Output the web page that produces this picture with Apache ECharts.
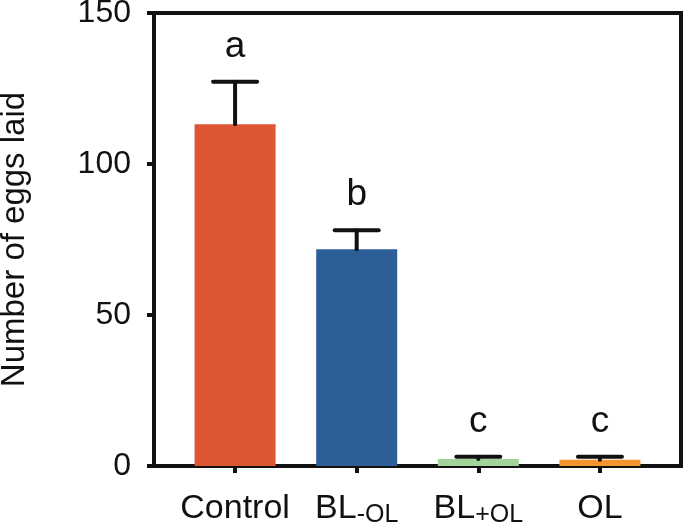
<!DOCTYPE html>
<html>
<head>
<meta charset="utf-8">
<script src="https://cdn.jsdelivr.net/npm/echarts@6/dist/echarts.min.js"></script>
<style>
html,body{margin:0;padding:0;background:#fff;}
#chart{width:685px;height:528px;}
</style>
</head>
<body>
<div id="chart"></div>
<script>
// ---- data ----
var categories = ['Control', 'BL', 'BL', 'OL'];
var subscripts = ['', '-OL', '+OL', ''];
var means = [113.2, 71.8, 2.3, 2.1];
var errorTops = [127.2, 78.1, 3.1, 3.1];
var letters = ['a', 'b', 'c', 'c'];
var colors = ['#DD5533', '#2D5E98', '#A2D49A', '#F3952F'];
var yTicks = [0, 50, 100, 150];

var FONT = '"Liberation Sans", Arial, Helvetica, sans-serif';
var positions = categories.map(function (c, i) { return i + 1; });

var barData = means.map(function (v, i) {
  return { value: [positions[i], v], itemStyle: { color: colors[i] } };
});
var errData = means.map(function (v, i) {
  return [positions[i], v, errorTops[i], i];
});

var chart = echarts.init(document.getElementById('chart'), null, { renderer: 'canvas' });
chart.setOption({
  animation: false,
  backgroundColor: '#fff',
  grid: {
    left: 154, right: 4, top: 13, bottom: 62,
    outerBoundsMode: 'none',
    containLabel: false,
    show: true, borderColor: '#111', borderWidth: 4, backgroundColor: 'transparent'
  },
  xAxis: {
    type: 'value',
    min: 1 / 3,
    max: 4 + 2 / 3,
    splitLine: { show: false },
    axisLine: { show: true, lineStyle: { color: '#111', width: 4 } },
    axisTick: { show: true, customValues: positions, length: 7, lineStyle: { color: '#111', width: 4 } },
    axisLabel: {
      customValues: positions,
      margin: 24,
      color: '#111',
      fontFamily: FONT,
      fontSize: 33,
      formatter: function (val) {
        var i = Math.round(val) - 1;
        if (i < 0 || i >= categories.length) return '';
        var s = '{m|' + categories[i] + '}';
        if (subscripts[i]) s += '{s|' + subscripts[i] + '}';
        return s;
      },
      rich: {
        m: { fontSize: 34, fontFamily: FONT, color: '#111', lineHeight: 38 },
        s: { fontSize: 25, fontFamily: FONT, color: '#111', lineHeight: 38, verticalAlign: 'bottom', padding: [14, 0, 0, 0] }
      }
    }
  },
  yAxis: {
    type: 'value',
    min: 0,
    max: 150,
    interval: 50,
    splitLine: { show: false },
    axisLine: { show: true, lineStyle: { color: '#111', width: 4 } },
    axisTick: { show: true, length: 7, lineStyle: { color: '#111', width: 4 } },
    axisLabel: {
      margin: 23, color: '#111', fontFamily: FONT, fontSize: 32,
      customValues: yTicks
    },
    name: 'Number of eggs laid',
    nameLocation: 'middle',
    nameGap: 123,
    nameTextStyle: { color: '#111', fontFamily: FONT, fontSize: 33 }
  },
  series: [
    {
      type: 'bar',
      data: barData,
      barWidth: 81,
      z: 2
    },
    {
      type: 'custom',
      data: errData,
      z: 3,
      renderItem: function (params, api) {
        var x = api.value(0);
        var base = api.coord([x, api.value(1)]);
        var top = api.coord([x, api.value(2)]);
        var idx = api.value(3);
        var half = 22;
        var ls = { stroke: '#111', lineWidth: 4, lineCap: 'round' };
        return {
          type: 'group',
          children: [
            { type: 'line', shape: { x1: base[0], y1: base[1], x2: top[0], y2: top[1] }, style: ls },
            { type: 'line', shape: { x1: top[0] - half, y1: top[1], x2: top[0] + half, y2: top[1] }, style: ls },
            {
              type: 'text',
              style: {
                text: letters[idx], x: top[0], y: top[1] - 35,
                align: 'center', verticalAlign: 'middle',
                fontFamily: FONT, fontSize: 37, fill: '#111'
              }
            }
          ]
        };
      }
    }
  ]
});
</script>
</body>
</html>
